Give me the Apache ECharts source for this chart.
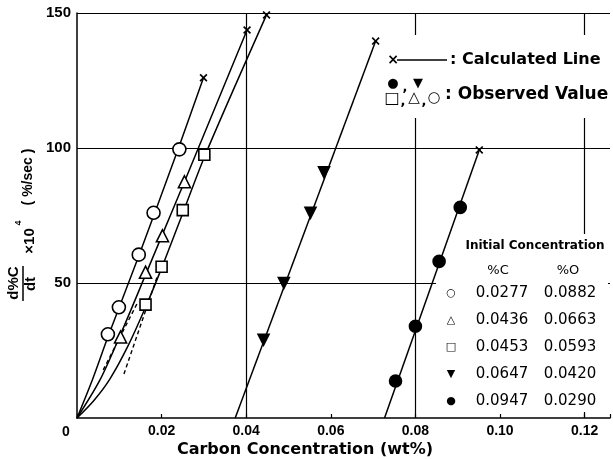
<!DOCTYPE html>
<html>
<head>
<meta charset="utf-8">
<script src="https://cdn.jsdelivr.net/npm/echarts@6/dist/echarts.min.js"></script>
<style>
html, body { margin: 0; padding: 0; background: #fff; }
#main { width: 613px; height: 459px; }
</style>
</head>
<body>
<div id="main"></div>
<script>
// axis / grid values
var xStep = 0.02;
var gridX = [0.04, 0.08, 0.12];
var gridY = [50, 100, 150];

// calculated lines, one per initial concentration (wt%, d%C/dt x10^4)
var calc0277 = [[0, 0], [0.0036, 14], [0.0073, 30], [0.0146, 60], [0.0240, 100], [0.0299, 126]];
var calc0436 = [[0, 0], [0.0054, 14], [0.0103, 31], [0.0162, 53], [0.0202, 68], [0.0254, 87.5], [0.0402, 143.7]];
var calc0453 = [[0, 0], [0.0040, 6.5], [0.0078, 14.5], [0.0120, 26.5], [0.0162, 41], [0.0200, 55.5],
    [0.0248, 75], [0.0306, 98.5], [0.0448, 149.3]];
var calc0647 = [[0.0374, 0], [0.0706, 139.6]];
var calc0947 = [[0.0727, 0], [0.0951, 99.3]];

// dashed curves near the origin
var dash1 = [[0.0062, 17.8], [0.0144, 43]];
var dash2 = [[0.0111, 16.3], [0.0191, 53]];

// observed values
var obs0277 = [[0.0073, 31], [0.0099, 41], [0.0146, 60.5], [0.0181, 76], [0.0242, 99.5]];
var obs0436 = [[0.0103, 30], [0.0162, 54], [0.0202, 67.5], [0.0254, 87.5]];
var obs0453 = [[0.0162, 42], [0.0200, 56], [0.0250, 77], [0.0301, 97.5]];
var obs0647 = [[0.0441, 29], [0.0489, 50], [0.0552, 76], [0.0584, 91]];
var obs0947 = [[0.0753, 13.7], [0.0800, 34], [0.0856, 58], [0.0906, 78]];

// legend table
var legSym = ['\u25CB', '\u25B3', '\u25A1', '\u25BC', '\u25CF'];
var legC = ['0.0277', '0.0436', '0.0453', '0.0647', '0.0947'];
var legO = ['0.0882', '0.0663', '0.0593', '0.0420', '0.0290'];

var crossPath = 'path://M0,1.5L1.5,0L5,3.5L8.5,0L10,1.5L6.5,5L10,8.5L8.5,10L5,6.5L1.5,10L0,8.5L3.5,5Z';
var tickFont = 'Liberation Sans';
var legFont = 'DejaVu Sans';

function calcLine(data, smooth) {
    return {type: 'line', data: data, smooth: smooth, showSymbol: false,
        silent: true, z: 2, lineStyle: {color: '#000', width: 1.5}};
}
function dashLine(data) {
    return {type: 'line', data: data, showSymbol: false, silent: true, z: 2,
        lineStyle: {color: '#000', width: 1.4, type: [4, 3]}};
}
function observed(data, symbol, size, filled, rotate) {
    return {type: 'scatter', data: data, symbol: symbol, symbolSize: size, symbolRotate: rotate || 0,
        silent: true, z: 3,
        itemStyle: {color: filled ? '#000' : '#fff', borderColor: '#000', borderWidth: 1.6, opacity: 1}};
}

var allCalc = [calc0277, calc0436, calc0453, calc0647, calc0947];
var ends = allCalc.map(function (a) { return a[a.length - 1]; });

var series = [
    {type: 'line', data: [], z: 0, silent: true,
        markLine: {z: 0, silent: true, symbol: 'none', animation: false, label: {show: false},
            lineStyle: {color: '#000', width: 1.2, type: 'solid'},
            emphasis: {disabled: true},
            data: gridX.map(function (v) { return {xAxis: v}; })
                .concat(gridY.map(function (v) { return {yAxis: v}; }))}},
    calcLine(calc0277, 0.3),
    calcLine(calc0436, 0.3),
    calcLine(calc0453, 0.3),
    calcLine(calc0647, false),
    calcLine(calc0947, false),
    dashLine(dash1),
    dashLine(dash2),
    {type: 'scatter', data: ends, symbol: crossPath, symbolSize: 8, silent: true, z: 3,
        itemStyle: {color: '#000', opacity: 1}},
    observed(obs0277, 'circle', 13, false),
    observed(obs0436, 'triangle', 12, false),
    observed(obs0453, 'rect', 11, false),
    observed(obs0647, 'triangle', 11, true, 180),
    observed(obs0947, 'circle', 12, true)
];

function txt(x, y, s, size, opts) {
    opts = opts || {};
    return {type: 'text', x: x, y: y, z: 5, rotation: opts.rot || 0, silent: true,
        style: {text: s, fill: '#000', align: opts.align || 'center', verticalAlign: 'middle',
            font: (opts.weight || 'bold') + ' ' + size + 'px "' + (opts.family || legFont) + '"'}};
}

var graphics = [
    // white patches behind the legends break the grid lines
    {type: 'rect', z: 1, silent: true, shape: {x: 386, y: 35, width: 227, height: 83}, style: {fill: '#fff'}},
    {type: 'rect', z: 1, silent: true, shape: {x: 436, y: 234, width: 172, height: 178}, style: {fill: '#fff'}},
    // calculated line key
    txt(393, 60, '\u00D7', 14),
    {type: 'line', z: 5, silent: true, shape: {x1: 397, y1: 60, x2: 447, y2: 60}, style: {stroke: '#000', lineWidth: 1.5}},
    txt(450, 60, ': Calculated Line', 16, {align: 'left'}),
    // observed value key
    txt(393, 84, '\u25CF', 13, {weight: 'normal'}),
    txt(405, 88, ',', 13),
    txt(418, 84, '\u25BC', 13, {weight: 'normal'}),
    txt(392, 99, '\u25A1', 16, {weight: 'bold'}),
    txt(403, 102, ',', 13),
    txt(414, 98, '\u25B3', 15, {weight: 'bold'}),
    txt(424, 102, ',', 13),
    txt(434, 98, '\u25CB', 15, {weight: 'bold'}),
    txt(445, 95, ': Observed Value', 17, {align: 'left'}),
    // initial concentration table
    txt(535, 246, 'Initial Concentration', 12),
    txt(498, 271, '%C', 13, {weight: 'normal'}),
    txt(568, 271, '%O', 13, {weight: 'normal'}),
    // axis titles
    txt(305, 450, 'Carbon Concentration (wt%)', 16),
    txt(66, 432, '0', 14, {family: tickFont}),
    txt(14, 283, 'd%C', 15, {rot: Math.PI / 2, family: tickFont}),
    {type: 'line', z: 5, silent: true, shape: {x1: 23, y1: 266, x2: 23, y2: 301}, style: {stroke: '#000', lineWidth: 1.5}},
    txt(31, 284, 'dt', 15, {rot: Math.PI / 2, family: tickFont}),
    txt(30, 241, '\u00D710', 15, {rot: Math.PI / 2, family: tickFont}),
    txt(19, 223, '4', 9, {rot: Math.PI / 2, family: tickFont}),
    txt(28, 177, '( %/sec )', 14, {rot: Math.PI / 2, family: tickFont})
];
legSym.forEach(function (s, i) {
    var y = 293 + i * 27;
    graphics.push(txt(451, y, s, 11, {weight: i < 3 ? 'bold' : 'normal'}));
    graphics.push(txt(502, y, legC[i], 15, {weight: 'normal'}));
    graphics.push(txt(570, y, legO[i], 15, {weight: 'normal'}));
});

var chart = echarts.init(document.getElementById('main'));
chart.setOption({
    animation: false,
    backgroundColor: '#fff',
    grid: {left: 77, right: 0, top: 13, bottom: 41},
    xAxis: {
        type: 'value', min: 0, max: 0.126, interval: xStep,
        axisLine: {lineStyle: {color: '#000', width: 1.5}},
        axisTick: {show: true, inside: true, length: 4, lineStyle: {color: '#000', width: 1.2}},
        splitLine: {show: false},
        axisLabel: {
            color: '#000', fontFamily: tickFont, fontWeight: 'bold', fontSize: 14, margin: 6,
            formatter: function (v) {
                var k = v / xStep;
                if (v === 0 || Math.abs(k - Math.round(k)) > 1e-6) return '';
                return v.toFixed(2);
            }
        }
    },
    yAxis: {
        type: 'value', min: 0, max: 150, interval: 50,
        axisLine: {show: true, lineStyle: {color: '#000', width: 1.5}},
        axisTick: {show: false},
        splitLine: {show: false},
        axisLabel: {
            color: '#000', fontFamily: tickFont, fontWeight: 'bold', fontSize: 15, margin: 6,
            formatter: function (v) { return v === 0 ? '' : String(v); }
        }
    },
    series: series,
    graphic: graphics
});
</script>
</body>
</html>
